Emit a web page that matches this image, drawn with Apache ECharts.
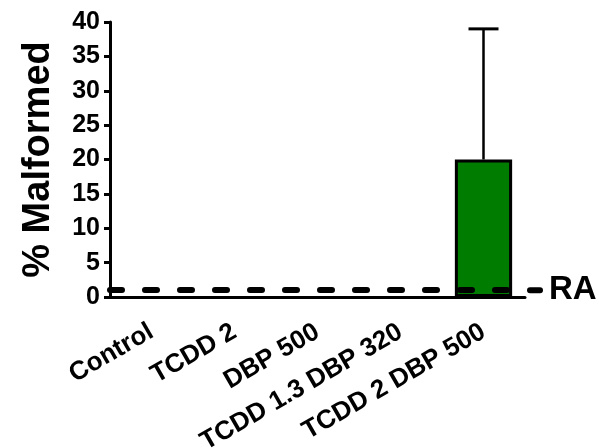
<!DOCTYPE html>
<html>
<head>
<meta charset="utf-8">
<script src="https://cdn.jsdelivr.net/npm/echarts@6/dist/echarts.min.js"></script>
<style>
html,body{margin:0;padding:0;background:#fff;}
#c{width:599px;height:448px;}
</style>
</head>
<body>
<div id="c"></div>
<script>
const categories = ['Control', 'TCDD 2', 'DBP 500', 'TCDD 1.3 DBP 320', 'TCDD 2 DBP 500'];
const meanValues = ['-', '-', '-', '-', 20];
const upperValues = [null, null, null, null, 39];
const raLevel = 1;
const yTicks = { min: 0, max: 40, interval: 5 };

const errData = [];
categories.forEach((c, i) => {
  if (upperValues[i] != null && meanValues[i] !== '-') errData.push([i, meanValues[i], upperValues[i]]);
});

const FONT = 'Liberation Sans, Arial, sans-serif';
const chart = echarts.init(document.getElementById('c'), null, { renderer: 'canvas' });
chart.setOption({
  animation: false,
  backgroundColor: '#fff',
  grid: { left: 110, right: 74, top: 22, bottom: 151, containLabel: false, outerBoundsMode: 'none' },
  xAxis: {
    type: 'category',
    data: categories,
    boundaryGap: true,
    axisLine: { lineStyle: { color: '#000', width: 3 } },
    axisTick: { alignWithLabel: true, length: 8, lineStyle: { color: '#000', width: 2.5 } },
    axisLabel: { rotate: 30, color: '#000', fontFamily: FONT, fontWeight: 'bold', fontSize: 26, margin: 33, interval: 0 }
  },
  yAxis: {
    type: 'value',
    min: yTicks.min, max: yTicks.max, interval: yTicks.interval,
    name: '% Malformed',
    nameLocation: 'middle',
    nameRotate: 90,
    nameGap: 52,
    nameTextStyle: { color: '#000', fontFamily: FONT, fontWeight: 'bold', fontSize: 38 },
    splitLine: { show: false },
    axisLine: { show: true, lineStyle: { color: '#000', width: 3 } },
    axisTick: { show: true, length: 6, lineStyle: { color: '#000', width: 3 } },
    axisLabel: { color: '#000', fontFamily: FONT, fontWeight: 'bold', fontSize: 25, margin: 10 }
  },
  series: [
    {
      type: 'bar',
      data: meanValues,
      barWidth: '69%',
      itemStyle: { color: '#007d00', borderColor: '#000', borderWidth: 3 },
      z: 2,
      markLine: {
        silent: true,
        symbol: 'none',
        z: 5,
        data: [{ yAxis: raLevel }],
        lineStyle: { color: '#000', width: 6, type: [12, 23], cap: 'round' },
        label: {
          show: true,
          position: 'end',
          distance: 2,
          formatter: '{d|}{t|RA}',
          rich: {
            d: { width: 16, height: 6, backgroundColor: '#000', borderRadius: 3 },
            t: { color: '#000', fontFamily: FONT, fontWeight: 'bold', fontSize: 33, padding: [0, 0, 0, 6] }
          }
        }
      }
    },
    {
      type: 'custom',
      data: errData,
      z: 1,
      renderItem: function (params, api) {
        const x = api.value(0);
        const base = api.coord([x, api.value(1)]);
        const top = api.coord([x, api.value(2)]);
        const hw = 15;
        return {
          type: 'group',
          children: [
            { type: 'line', shape: { x1: base[0], y1: base[1], x2: top[0], y2: top[1] }, style: { stroke: '#000', lineWidth: 2.5 } },
            { type: 'line', shape: { x1: top[0] - hw, y1: top[1], x2: top[0] + hw, y2: top[1] }, style: { stroke: '#000', lineWidth: 3 } }
          ]
        };
      }
    }
  ]
});
</script>
</body>
</html>
